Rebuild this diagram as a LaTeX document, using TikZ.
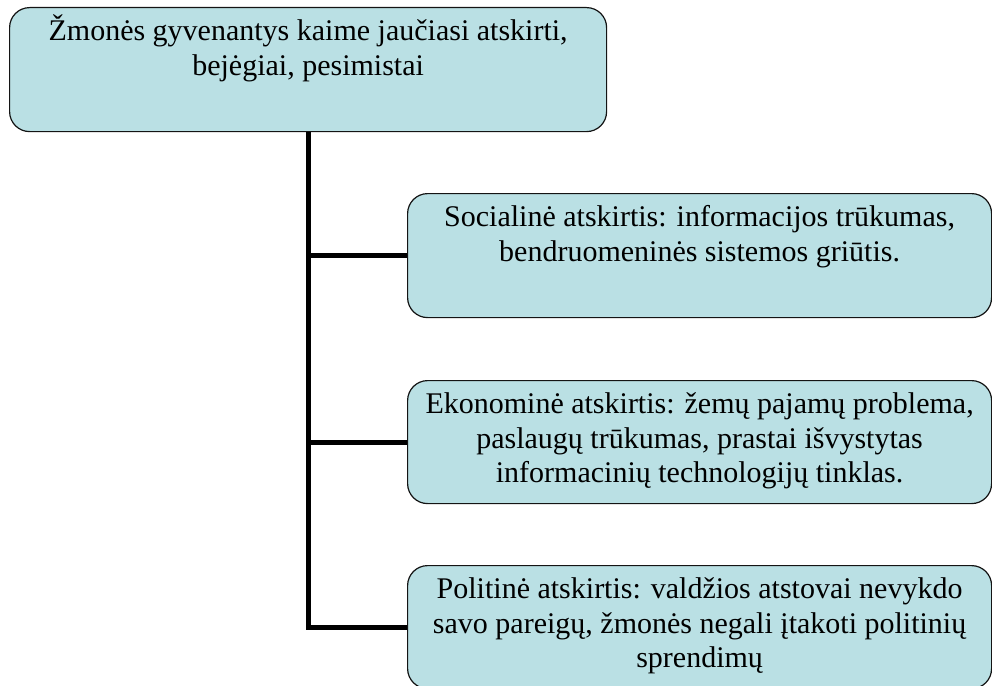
\documentclass[tikz,border=0pt]{standalone}
\usepackage{fontspec}
\setmainfont{Liberation Serif}
\definecolor{boxfill}{RGB}{186,224,228}
\definecolor{boxline}{RGB}{20,20,20}
\newcommand{\boxtext}[3]{\parbox[t][#2][t]{#1}{\centering\fontsize{30pt}{34.5pt}\selectfont\rule{0pt}{33pt}#3\par}}
\begin{document}
\begin{tikzpicture}[x=1pt,y=-1pt,
  box/.style={draw=boxline, fill=boxfill, line width=1.2pt, rounded corners=20pt,
    inner sep=0pt, anchor=north west},
  conn/.style={draw=black, line width=4.8pt}]
\useasboundingbox (0,0) rectangle (992,685);
\node[box] (top) at (9,7) {\boxtext{597pt}{124pt}{Žmonės gyvenantys kaime jaučiasi atskirti,\\ bejėgiai, pesimistai}};
\node[box] (b2) at (407,193) {\boxtext{584pt}{124pt}{Socialinė atskirtis: informacijos trūkumas,\\ bendruomeninės sistemos griūtis.}};
\node[box] (b3) at (407,380) {\boxtext{584pt}{123pt}{Ekonominė atskirtis: žemų pajamų problema,\\ paslaugų trūkumas, prastai išvystytas\\ informacinių technologijų tinklas.}};
\node[box] (b4) at (407,565) {\boxtext{584pt}{123pt}{Politinė atskirtis: valdžios atstovai nevykdo\\ savo pareigų, žmonės negali įtakoti politinių\\ sprendimų}};
\draw[conn] (top.south) |- (b4.west);
\draw[conn] (top.south |- b2.west) -- (b2.west);
\draw[conn] (top.south |- b3.west) -- (b3.west);
\end{tikzpicture}
\end{document}
